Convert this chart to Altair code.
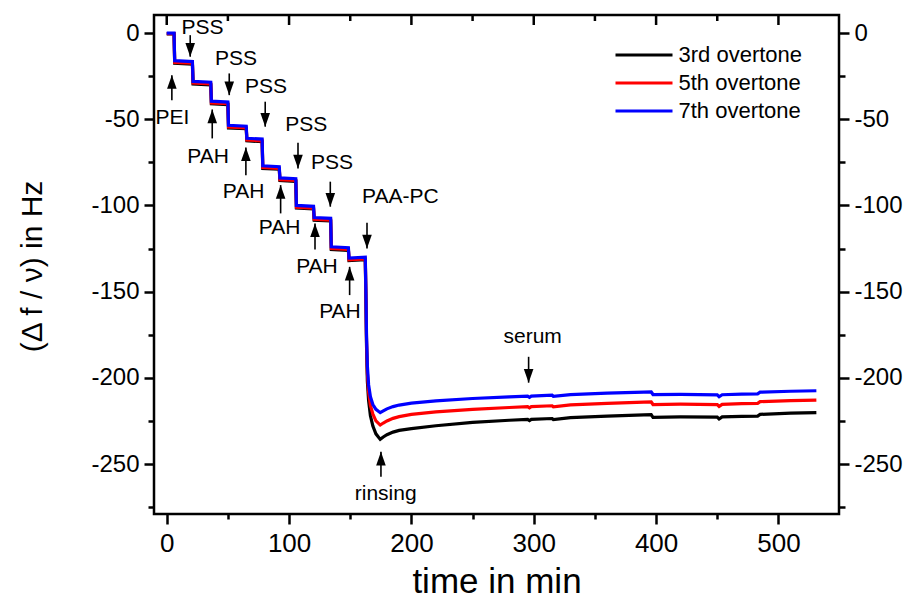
import altair as alt
import pandas as pd

# ---------------- data ----------------
series_names = ["3rd overtone", "5th overtone", "7th overtone"]
series_colors = ["#000000", "#ff0000", "#0000ff"]

time_min = [0, 6, 6.5, 21, 21.5, 36, 36.5, 50, 50.5, 65, 65.5, 78, 78.5, 92, 92.5,
            105.5, 106, 120, 120.5, 134, 134.5, 148.5, 149, 162.3, 162.8, 163.3, 164,
            165, 166.5, 168.5, 171, 174.5, 177, 180, 185, 190, 200, 220, 250, 280, 295,
            296.5, 298, 315, 316, 330, 360, 390, 396, 397.5, 420, 450, 451.5, 454, 470,
            483, 485, 510, 531]

overtone7 = [0, 0, -16, -16.5, -28, -28.5, -39.5, -40, -53.5, -54, -61, -61.5, -77, -77.5, -84,
             -84.5, -100, -100.5, -107, -107.5, -124, -124.5, -130.5, -130, -150, -175, -193,
             -204, -211, -215.5, -218.3, -220.2, -219.2, -218, -216.7, -215.8, -214.7, -213.4, -212, -211, -210.6,
             -211.3, -210.6, -210.1, -210.7, -209.7, -208.9, -208.3, -208.2, -209.7, -209.6, -209.9, -211.0, -209.8, -209.5,
             -209.3, -208.3, -207.8, -207.5]

overtone5 = [-0.3, -0.3, -17, -17.5, -29, -29.5, -40.5, -41, -54.5, -55, -62, -62.5, -78, -78.5, -85,
             -85.5, -101, -101.5, -108, -108.5, -125, -125.5, -131.5, -131, -152, -178, -197,
             -208, -216, -221, -225, -227.4, -226.2, -225, -223.5, -222.5, -221.2, -219.8, -218.3, -217.2, -216.7,
             -217.4, -216.7, -216.2, -216.8, -215.7, -214.8, -214.1, -214.0, -215.5, -215.3, -215.5, -216.6, -215.4, -215.0,
             -214.8, -213.8, -213.2, -212.9]

overtone3 = [-0.5, -0.5, -17.5, -18, -29.5, -30, -41, -41.5, -55, -55.5, -62.5, -63, -78.5, -79, -85.5,
             -86, -101.5, -102, -108.5, -109, -125.5, -126, -132, -131.5, -154, -181, -202,
             -213, -222, -228, -232.5, -235.7, -234.3, -233, -231.5, -230.5, -229.5, -227.8, -225.8, -224.6, -224.1,
             -224.8, -224.1, -223.6, -224.2, -223.1, -222.2, -221.5, -221.4, -222.9, -222.7, -222.8, -223.9, -222.7, -222.4,
             -222.2, -221.2, -220.5, -220.2]

x_tick_values = [0, 50, 100, 150, 200, 250, 300, 350, 400, 450, 500]
x_major_ticks = [0, 100, 200, 300, 400, 500]
x_minor_ticks = [50, 150, 250, 350, 450]
y_tick_values = [-275, -250, -225, -200, -175, -150, -125, -100, -75, -50, -25, 0]

# annotations with a downward arrow (label above)
down_labels = ["PSS", "PSS", "PSS", "PSS", "PSS", "PAA-PC", "serum"]
down_label_x = [29.2, 56.6, 81.1, 114.1, 135.1, 190.9, 299.1]
down_label_y = [3.2, -15.3, -31.1, -53.4, -75.2, -95.1, -176.2]
down_arrow_x = [19.2, 51.1, 80.5, 107.3, 133.7, 163.7, 295.8]
down_arrow_top = [-1.2, -23.4, -39.8, -63.6, -86.2, -110.0, -187.8]
down_arrow_tip = [-13.7, -36.0, -54.3, -78.5, -100.7, -124.9, -202.8]

# annotations with an upward arrow (label below)
up_labels = ["PEI", "PAH", "PAH", "PAH", "PAH", "PAH", "rinsing"]
up_label_x = [4.6, 33.8, 62.8, 92.2, 122.8, 141.6, 179.0]
up_label_y = [-49.5, -71.7, -92.0, -113.3, -135.9, -161.7, -267.5]
up_arrow_x = [4.2, 37.2, 64.7, 93.1, 121.2, 149.5, 175.1]
up_arrow_bottom = [-38.9, -61.1, -82.4, -104.6, -125.5, -152.0, -257.4]
up_arrow_tip = [-24.4, -44.3, -66.3, -88.2, -110.4, -135.6, -242.9]

# ---------------- tables ----------------
rows = []
for name, vals in zip(series_names, [overtone3, overtone5, overtone7]):
    assert len(vals) == len(time_min)
    for i, (t, v) in enumerate(zip(time_min, vals)):
        rows.append({"t": t, "v": v, "series": name, "idx": i})
df = pd.DataFrame(rows)

down_df = pd.DataFrame({"label": down_labels, "lx": down_label_x, "ly": down_label_y,
                        "ax": down_arrow_x, "top": down_arrow_top, "tip": down_arrow_tip})
up_df = pd.DataFrame({"label": up_labels, "lx": up_label_x, "ly": up_label_y,
                      "ax": up_arrow_x, "bottom": up_arrow_bottom, "tip": up_arrow_tip})
major_df = pd.DataFrame({"t": x_major_ticks})
minor_df = pd.DataFrame({"t": x_minor_ticks})

FONT = "Liberation Sans"
xs = alt.Scale(domain=[-10.4, 549.5], nice=False, zero=False)
ys = alt.Scale(domain=[-279, 10.5], nice=False, zero=False)

x_axis = alt.Axis(
    values=x_tick_values, orient="bottom",
    labelExpr="datum.value % 100 === 0 ? '' + datum.value : ''",
    tickSize={"condition": {"test": "datum.value % 100 === 0", "value": 10}, "value": 5},
    tickWidth=2.5, tickColor="black", domain=False, grid=False,
    labelFont=FONT, labelFontSize=26, labelColor="black", labelPadding=6,
    title="time in min", titleFont=FONT, titleFontSize=35, titleFontWeight="normal",
    titleColor="black", titleBaseline="alphabetic", titleX=342.5, titleY=78,
)
y_axis_left = alt.Axis(
    values=y_tick_values, orient="left",
    labelExpr="datum.value % 50 === 0 ? '' + datum.value : ''",
    tickSize={"condition": {"test": "datum.value % 50 === 0", "value": 10}, "value": 6},
    tickWidth=2.5, tickColor="black", domain=False, grid=False,
    labelFont=FONT, labelFontSize=24, labelColor="black", labelPadding=5,
    title="(Δ f / ν) in Hz", titleFont=FONT, titleFontSize=30, titleFontWeight="normal",
    titleColor="black", titleBaseline="middle", titleAlign="center", titleAngle=270,
    titleX=-122, titleY=251,
)
y_axis_right = alt.Axis(
    values=y_tick_values, orient="right",
    labelExpr="datum.value % 50 === 0 ? '' + datum.value : ''",
    tickSize={"condition": {"test": "datum.value % 50 === 0", "value": 10}, "value": 6},
    tickWidth=2.5, tickColor="black", domain=False, grid=False,
    labelFont=FONT, labelFontSize=24, labelColor="black", labelPadding=5,
    title=None,
)

lines = alt.Chart(df).mark_line(strokeWidth=3.2).encode(
    x=alt.X("t:Q", scale=xs, axis=x_axis),
    y=alt.Y("v:Q", scale=ys, axis=y_axis_left),
    color=alt.Color(
        "series:N",
        scale=alt.Scale(domain=series_names, range=series_colors),
        legend=alt.Legend(
            title=None, orient="none", legendX=459.5, legendY=27,
            symbolType="stroke", symbolSize=3249, symbolStrokeWidth=3.2,
            labelFont=FONT, labelFontSize=22, labelColor="black", labelOffset=4,
            clipHeight=26, rowPadding=2, padding=0,
        ),
    ),
    order=alt.Order("idx:Q"),
)

down_shaft = alt.Chart(down_df).mark_rule(color="black", strokeWidth=1.6).encode(
    x=alt.X("ax:Q", scale=xs, axis=None),
    y=alt.Y("top:Q", scale=ys, axis=y_axis_right),
    y2="tip:Q",
)
down_head = alt.Chart(down_df).mark_point(
    shape="M -0.35 -1 L 0.35 -1 L 0 0 Z", filled=True, size=750, color="black", opacity=1, strokeWidth=0
).encode(
    x=alt.X("ax:Q", scale=xs, axis=None),
    y=alt.Y("tip:Q", scale=ys, axis=None),
)
down_text = alt.Chart(down_df).mark_text(font=FONT, fontSize=21, color="black", baseline="middle", align="center").encode(
    x=alt.X("lx:Q", scale=xs, axis=None),
    y=alt.Y("ly:Q", scale=ys, axis=None),
    text="label:N",
)
up_shaft = alt.Chart(up_df).mark_rule(color="black", strokeWidth=1.6).encode(
    x=alt.X("ax:Q", scale=xs, axis=None),
    y=alt.Y("bottom:Q", scale=ys, axis=None),
    y2="tip:Q",
)
up_head = alt.Chart(up_df).mark_point(
    shape="M -0.35 1 L 0.35 1 L 0 0 Z", filled=True, size=750, color="black", opacity=1, strokeWidth=0
).encode(
    x=alt.X("ax:Q", scale=xs, axis=None),
    y=alt.Y("tip:Q", scale=ys, axis=None),
)
up_text = alt.Chart(up_df).mark_text(font=FONT, fontSize=21, color="black", baseline="middle", align="center").encode(
    x=alt.X("lx:Q", scale=xs, axis=None),
    y=alt.Y("ly:Q", scale=ys, axis=None),
    text="label:N",
)
top_major = alt.Chart(major_df).mark_rule(color="black", strokeWidth=2.5).encode(
    x=alt.X("t:Q", scale=xs, axis=None), y=alt.value(0), y2=alt.value(10),
)
top_minor = alt.Chart(minor_df).mark_rule(color="black", strokeWidth=2.5).encode(
    x=alt.X("t:Q", scale=xs, axis=None), y=alt.value(0), y2=alt.value(6),
)

chart = alt.layer(
    lines, down_shaft, down_head, down_text, up_shaft, up_head, up_text, top_major, top_minor
).resolve_axis(x="independent", y="independent").properties(
    width=685, height=499,
    autosize=alt.AutoSizeParams(type="none"),
    padding={"left": 146, "top": 7, "right": 68, "bottom": 86},
    background="white",
).configure_view(stroke="black", strokeWidth=2.5)

chart.save("out.html", embed_options={"renderer": "svg", "actions": False})
